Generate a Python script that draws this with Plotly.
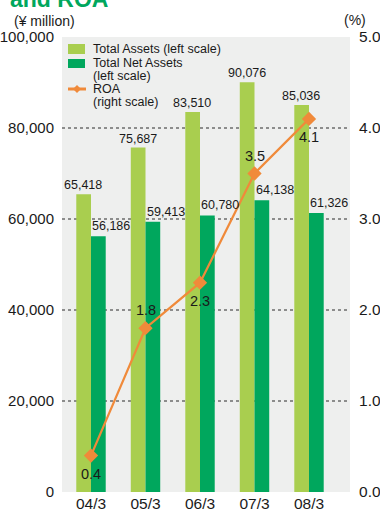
import plotly.graph_objects as go

# Fiscal year-ends (March)
years = ["04/3", "05/3", "06/3", "07/3", "08/3"]
total_assets = [65418, 75687, 83510, 90076, 85036]      # ¥ million
total_net_assets = [56186, 59413, 60780, 64138, 61326]  # ¥ million
roa = [0.4, 1.8, 2.3, 3.5, 4.1]                          # %

left_ticks = [0, 20000, 40000, 60000, 80000, 100000]
right_ticks = [0.0, 1.0, 2.0, 3.0, 4.0, 5.0]
grid_levels = [20000, 40000, 60000, 80000]

LIGHT_GREEN = "#A9CE4F"
DARK_GREEN = "#00A75D"
ORANGE = "#F08A3A"
PANEL = "#EEEFEE"
TEXT = "#1a1a1a"
FONT = "Liberation Sans, Arial, sans-serif"

W, H = 380, 509
M_L, M_R, M_T, M_B = 62, 30, 37, 17
PLOT_W = W - M_L - M_R
PLOT_H = H - M_T - M_B


def px(x):
    """Horizontal pixel -> paper fraction."""
    return (x - M_L) / PLOT_W


def py(y):
    """Vertical pixel (from top) -> paper fraction."""
    return (H - M_B - y) / PLOT_H


# ROA labels alternate below / above the line: +1 above, -1 below
roa_label_side = [-1, 1, -1, 1, -1]

fig = go.Figure()

fig.add_trace(go.Bar(
    x=years, y=total_assets, name="Total Assets (left scale)",
    marker=dict(color=LIGHT_GREEN, line=dict(width=0)),
    yaxis="y", hoverinfo="skip",
))
fig.add_trace(go.Bar(
    x=years, y=total_net_assets, name="Total Net Assets (left scale)",
    marker=dict(color=DARK_GREEN, line=dict(width=0)),
    yaxis="y", hoverinfo="skip",
))
fig.add_trace(go.Scatter(
    x=years, y=roa, name="ROA (right scale)",
    mode="lines+markers",
    line=dict(color=ORANGE, width=2.2),
    marker=dict(symbol="diamond", size=11, color=ORANGE),
    yaxis="y2", hoverinfo="skip",
))

annotations = []

# Value labels above the bars
for yr, a, n in zip(years, total_assets, total_net_assets):
    annotations.append(dict(
        x=yr, y=a, xref="x", yref="y", text=f"{a:,}", showarrow=False,
        xshift=-8, yanchor="bottom", yshift=0,
        font=dict(family=FONT, size=12.5, color=TEXT),
    ))
    annotations.append(dict(
        x=yr, y=n, xref="x", yref="y", text=f"{n:,}", showarrow=False,
        xshift=20, yanchor="bottom", yshift=1,
        font=dict(family=FONT, size=12.5, color=TEXT),
    ))

# ROA value labels
for yr, v, side in zip(years, roa, roa_label_side):
    annotations.append(dict(
        x=yr, y=v, xref="x", yref="y2", text=f"{v:.1f}", showarrow=False,
        yanchor="middle", yshift=18 * side,
        font=dict(family=FONT, size=14.5, color=TEXT),
    ))

# Unit captions and heading fragment
annotations += [
    dict(x=px(12), y=py(21), xref="paper", yref="paper", text="(¥ million)",
         showarrow=False, xanchor="left", yanchor="middle",
         font=dict(family=FONT, size=14, color=TEXT)),
    dict(x=px(355), y=py(20), xref="paper", yref="paper", text="(%)",
         showarrow=False, xanchor="center", yanchor="middle",
         font=dict(family=FONT, size=14, color=TEXT)),
    dict(x=px(8), y=py(-1), xref="paper", yref="paper", text="<b>and ROA</b>",
         showarrow=False, xanchor="left", yanchor="middle",
         font=dict(family=FONT, size=23, color=DARK_GREEN)),
]

# Legend key, drawn in the top-left of the panel
legend_lines = [
    ("Total Assets (left scale)", 49),
    ("Total Net Assets", 63),
    ("(left scale)", 75.5),
    ("ROA", 89),
    ("(right scale)", 101.5),
]
for txt, yc in legend_lines:
    annotations.append(dict(
        x=px(91), y=py(yc), xref="paper", yref="paper", text=txt,
        showarrow=False, xanchor="left", yanchor="middle",
        font=dict(family=FONT, size=12.5, color=TEXT),
    ))

shapes = [
    dict(type="line", xref="paper", yref="y", x0=0, x1=1, y0=g, y1=g,
         line=dict(color="#2a2a2a", width=1, dash="3px,3px"), layer="below")
    for g in grid_levels
]
shapes += [
    dict(type="rect", xref="paper", yref="paper",
         x0=px(68), x1=px(85), y0=py(44), y1=py(54),
         fillcolor=LIGHT_GREEN, line=dict(width=0)),
    dict(type="rect", xref="paper", yref="paper",
         x0=px(68), x1=px(85), y0=py(59), y1=py(68),
         fillcolor=DARK_GREEN, line=dict(width=0)),
    dict(type="line", xref="paper", yref="paper",
         x0=px(68), x1=px(86), y0=py(89), y1=py(89),
         line=dict(color=ORANGE, width=3)),
    dict(type="path", xref="paper", yref="paper",
         xsizemode="pixel", ysizemode="pixel", xanchor=px(77), yanchor=py(89),
         path="M-4,0 L0,4 L4,0 L0,-4 Z", fillcolor=ORANGE, line=dict(width=0)),
]

fig.update_layout(
    width=W, height=H,
    margin=dict(l=M_L, r=M_R, t=M_T, b=M_B, autoexpand=False),
    paper_bgcolor="white",
    plot_bgcolor=PANEL,
    barmode="group", bargap=0.46, bargroupgap=0,
    showlegend=False,
    xaxis=dict(
        type="category", showgrid=False, showline=False, zeroline=False,
        automargin=False, ticks="", ticklen=0,
        tickfont=dict(family=FONT, size=15.5, color=TEXT),
    ),
    yaxis=dict(
        range=[0, 100000], tickvals=left_ticks,
        ticktext=[f"{v:,}" for v in left_ticks],
        showgrid=False, zeroline=False, showline=False, automargin=False,
        tickfont=dict(family=FONT, size=15, color=TEXT),
        ticks="outside", ticklen=4, tickcolor="rgba(0,0,0,0)",
    ),
    yaxis2=dict(
        range=[0, 5], tickvals=right_ticks,
        ticktext=[f"{v:.1f}" for v in right_ticks],
        overlaying="y", side="right",
        showgrid=False, zeroline=False, showline=False, automargin=False,
        tickfont=dict(family=FONT, size=15.5, color=TEXT),
        ticks="outside", ticklen=5, tickcolor="rgba(0,0,0,0)",
    ),
    annotations=annotations,
    shapes=shapes,
)

fig.write_html("out.html")
